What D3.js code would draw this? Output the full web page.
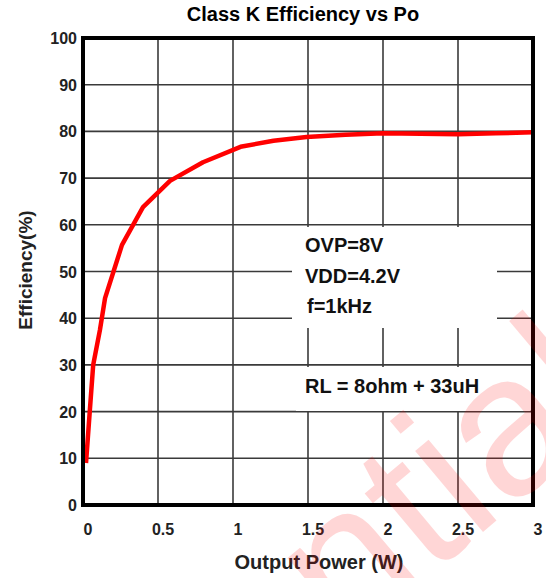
<!DOCTYPE html>
<html>
<head>
<meta charset="utf-8">
<script src="https://cdn.jsdelivr.net/npm/d3@7"></script>
<style>
  html, body { margin: 0; padding: 0; background: #fff; }
  svg { display: block; }
  text { font-family: "Liberation Sans", Arial, sans-serif; }
</style>
</head>
<body>
<svg id="chart" width="546" height="578"></svg>
<script>
// ---- data ----
const powerW = [0.02, 0.045, 0.068, 0.113, 0.147, 0.26, 0.40, 0.58, 0.80, 1.05, 1.27, 1.49, 1.75, 2.0, 2.25, 2.5, 2.75, 3.0];
const efficiency = [9.0, 20, 30, 37.5, 44.3, 55.7, 63.8, 69.4, 73.4, 76.7, 78.0, 78.8, 79.3, 79.6, 79.5, 79.4, 79.6, 79.8];
const xTicks = [0, 0.5, 1, 1.5, 2, 2.5, 3];
const xTickLabels = ["0", "0.5", "1", "1.5", "2", "2.5", "3"];
const yTicks = [0, 10, 20, 30, 40, 50, 60, 70, 80, 90, 100];
const noteLines = ["OVP=8V", "VDD=4.2V", "f=1kHz"];
const loadNote = "RL = 8ohm + 33uH";
const titleText = "Class K Efficiency vs Po";
const xTitle = "Output Power (W)";
const yTitle = "Efficiency(%)";
const watermark = "Confidential";

// ---- layout ----
const L = 83, R = 533, T = 38, B = 505;
const svg = d3.select("#chart");
const x = d3.scaleLinear().domain([0, 3]).range([L, R]);
const y = d3.scaleLinear().domain([0, 100]).range([B, T]);

// grid
const grid = svg.append("g");
grid.selectAll("line.v").data(xTicks).join("line")
  .attr("x1", d => x(d)).attr("x2", d => x(d)).attr("y1", T).attr("y2", B)
  .attr("stroke", "#3a3a3a").attr("stroke-width", 1.6);
grid.selectAll("line.h").data(yTicks).join("line")
  .attr("x1", L).attr("x2", R).attr("y1", d => y(d)).attr("y2", d => y(d))
  .attr("stroke", "#3a3a3a").attr("stroke-width", 1.6);

// annotation boxes (white, covering grid)
svg.append("rect").attr("x", 292).attr("y", 227).attr("width", 205).attr("height", 101).attr("fill", "#fff");
svg.append("rect").attr("x", 296).attr("y", 367).attr("width", 234).attr("height", 44).attr("fill", "#fff");

// curve
const line = d3.line().x(d => x(d[0])).y(d => y(d[1])).curve(d3.curveLinear);
svg.append("path")
  .datum(powerW.map((p, i) => [p, efficiency[i]]))
  .attr("d", line).attr("fill", "none").attr("stroke", "#ff0000")
  .attr("stroke-width", 4.5).attr("stroke-linejoin", "round");

// frame
svg.append("rect").attr("x", L).attr("y", T).attr("width", R - L).attr("height", B - T)
  .attr("fill", "none").attr("stroke", "#000").attr("stroke-width", 4);

// tick labels
svg.selectAll("text.yt").data(yTicks).join("text")
  .attr("x", 77).attr("y", d => y(d) + 6)
  .attr("text-anchor", "end").attr("font-size", 16).attr("font-weight", "bold").attr("fill", "#222")
  .text(d => d);
svg.selectAll("text.xt").data(xTicks).join("text")
  .attr("x", d => x(d) + 5).attr("y", 535)
  .attr("text-anchor", "middle").attr("font-size", 16).attr("font-weight", "bold").attr("fill", "#222")
  .text((d, i) => xTickLabels[i]);

// titles
svg.append("text").attr("x", 303).attr("y", 21).attr("text-anchor", "middle")
  .attr("font-size", 20).attr("font-weight", "bold").attr("fill", "#000").text(titleText);
svg.append("text").attr("x", 319).attr("y", 569).attr("text-anchor", "middle")
  .attr("font-size", 20).attr("font-weight", "bold").attr("fill", "#222").text(xTitle);
svg.append("text").attr("transform", "translate(32,270) rotate(-90)").attr("text-anchor", "middle")
  .attr("font-size", 19).attr("font-weight", "bold").attr("fill", "#222").text(yTitle);

// notes
svg.selectAll("text.note").data(noteLines).join("text")
  .attr("x", (d, i) => i === 2 ? 307 : 305).attr("y", (d, i) => 252 + i * 30.5)
  .attr("font-size", 20).attr("font-weight", "bold").attr("fill", "#111").text(d => d);
svg.append("text").attr("x", 305).attr("y", 393)
  .attr("font-size", 20).attr("font-weight", "bold").attr("fill", "#111").text(loadNote);

// watermark
svg.append("text").attr("transform", "translate(626,412) rotate(-40)")
  .attr("text-anchor", "end").attr("font-size", 200).attr("fill", "#ff0000").attr("fill-opacity", 0.16)
  .text(watermark);
</script>
</body>
</html>
